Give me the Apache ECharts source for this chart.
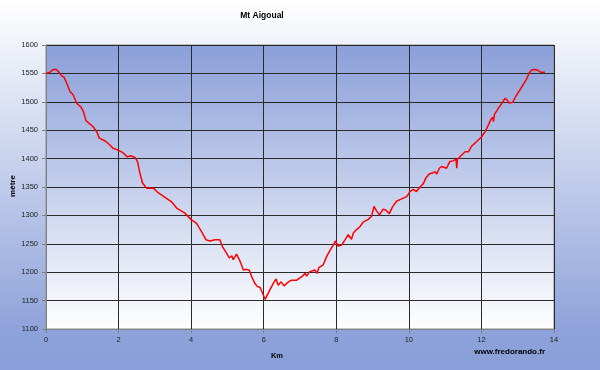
<!DOCTYPE html>
<html>
<head>
<meta charset="utf-8">
<script src="https://cdn.jsdelivr.net/npm/echarts@6/dist/echarts.min.js"></script>
<style>html,body{margin:0;padding:0;}#c{width:600px;height:370px;}</style>
</head>
<body>
<div id="c"></div>
<script>
var km = [0,0.11,0.2,0.29,0.37,0.43,0.5,0.57,0.66,0.75,0.85,0.96,1.03,1.1,1.19,1.3,1.4,1.47,1.63,1.76,1.85,1.99,2.13,2.24,2.33,2.45,2.52,2.59,2.66,2.77,2.96,3.09,3.23,3.46,3.6,3.83,3.99,4.15,4.29,4.41,4.52,4.66,4.79,4.87,4.98,5.05,5.12,5.16,5.25,5.35,5.44,5.53,5.6,5.67,5.76,5.82,5.9,5.97,6.04,6.1,6.17,6.26,6.34,6.4,6.48,6.56,6.68,6.77,6.91,7.05,7.14,7.18,7.27,7.41,7.47,7.52,7.64,7.73,7.83,7.92,7.98,8.05,8.15,8.24,8.33,8.42,8.47,8.56,8.65,8.74,8.88,8.97,9.04,9.11,9.19,9.29,9.37,9.46,9.55,9.66,9.8,9.94,10.03,10.12,10.21,10.32,10.4,10.47,10.56,10.66,10.72,10.77,10.84,10.9,11.04,11.13,11.22,11.3,11.32,11.34,11.45,11.55,11.64,11.73,11.87,12.0,12.1,12.19,12.26,12.31,12.33,12.36,12.47,12.56,12.65,12.71,12.77,12.86,12.97,13.06,13.15,13.25,13.32,13.38,13.48,13.57,13.63,13.75];
var altitude = [1550,1552,1557,1557,1551,1546,1543,1533,1518,1512,1497,1491,1483,1467,1462,1456,1447,1436,1431,1424,1418,1415,1410,1403,1405,1402,1395,1374,1357,1348,1348,1340,1334,1324,1313,1304,1293,1286,1271,1257,1255,1257,1257,1244,1233,1225,1229,1222,1232,1219,1204,1205,1204,1192,1180,1175,1173,1163,1152,1160,1169,1180,1188,1177,1183,1176,1183,1186,1186,1192,1198,1193,1201,1204,1198,1208,1213,1227,1239,1248,1255,1246,1248,1257,1266,1258,1269,1275,1280,1288,1293,1298,1316,1308,1301,1311,1309,1303,1315,1325,1329,1333,1342,1346,1342,1351,1356,1366,1373,1375,1377,1373,1383,1386,1383,1395,1396,1399,1383,1399,1406,1412,1412,1422,1430,1438,1447,1459,1469,1473,1465,1478,1489,1497,1506,1503,1498,1499,1512,1521,1530,1541,1551,1556,1557,1555,1552,1552];
var titleText = 'Mt Aigoual';
var xName = 'Km';
var yName = 'mètre';
var credit = 'www.fredorando.fr';

var chart = echarts.init(document.getElementById('c'), null, {renderer:'canvas'});
var pts = km.map(function(k,i){return [k, altitude[i]];});
var font = 'Liberation Sans, Arial, sans-serif';
chart.setOption({
  animation:false,
  backgroundColor: new echarts.graphic.LinearGradient(0,0,0,1,[{offset:0,color:'#ffffff'},{offset:0.9,color:'#8da2da'},{offset:1,color:'#8a9fd9'}]),
  grid:{left:46,right:46,top:45,bottom:41,show:true,borderColor:'#8c8c8c',borderWidth:1,
    backgroundColor:new echarts.graphic.LinearGradient(0,0,0,1,[{offset:0,color:'#8a9fd9'},{offset:1,color:'#ffffff'}])},
  xAxis:{type:'value',min:0,max:14,interval:2,
    axisLine:{show:true,lineStyle:{color:'#808080',width:1}},
    axisTick:{show:true,length:4,lineStyle:{color:'#808080'}},
    axisLabel:{fontFamily:font,fontSize:7.5,color:'#222',margin:7,formatter:function(v){return String(v);}},
    splitLine:{show:true,lineStyle:{color:'#2a2a2a',width:1}}},
  yAxis:{type:'value',min:1100,max:1600,interval:50,
    axisLine:{show:true,lineStyle:{color:'#808080',width:1}},
    axisTick:{show:true,length:4,lineStyle:{color:'#808080'}},
    axisLabel:{fontFamily:font,fontSize:7.5,color:'#222',margin:8,formatter:function(v){return String(v);}},
    splitLine:{show:true,lineStyle:{color:'#2a2a2a',width:1}}},
  graphic:[
    {type:'text',x:262,y:16,style:{text:titleText,font:'bold 8.5px '+font,fill:'#000',align:'center',verticalAlign:'middle'}},
    {type:'text',x:277,y:356,style:{text:xName,font:'bold 7.5px '+font,fill:'#000',align:'center',verticalAlign:'middle'}},
    {type:'text',x:545,y:352,style:{text:credit,font:'bold 8px '+font,fill:'#000',align:'right',verticalAlign:'middle'}},
    {type:'text',x:13,y:186,rotation:Math.PI/2,style:{text:yName,font:'bold 8px '+font,fill:'#000',align:'center',verticalAlign:'middle'}}
  ],
  series:[{type:'line',data:pts,showSymbol:false,symbol:'none',lineStyle:{color:'#ff0000',width:1.5}}]
});
</script>
</body>
</html>
